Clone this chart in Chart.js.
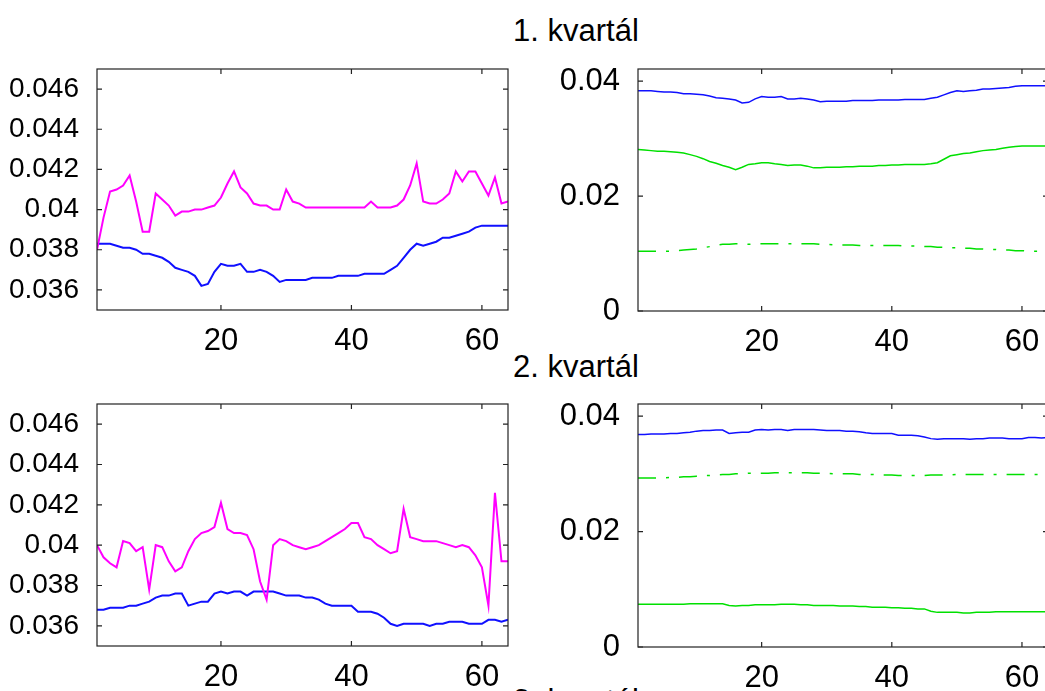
<!DOCTYPE html>
<html>
<head>
<meta charset="utf-8">
<script src="https://cdn.jsdelivr.net/npm/chart.js@4.4.0/dist/chart.umd.min.js"></script>
<style>
  html, body { margin: 0; padding: 0; background: #fff; overflow: hidden; width: 1045px; height: 691px; }
  canvas { position: absolute; }
  .titulo { position: absolute; left: 513px; font: 31px "Liberation Sans", Arial, sans-serif; line-height: 31px; color: #000; white-space: nowrap; }
</style>
</head>
<body>
<div class="titulo" style="top:15px">1. kvartál</div>
<div class="titulo" style="top:351px">2. kvartál</div>
<div class="titulo" style="top:685px">3. kvartál</div>

<canvas id="q1Izq" width="530" height="320" style="left:0px;top:50px"></canvas>
<canvas id="q1Der" width="530" height="320" style="left:540px;top:50px"></canvas>
<canvas id="q2Izq" width="530" height="320" style="left:0px;top:385px"></canvas>
<canvas id="q2Der" width="530" height="320" style="left:540px;top:385px"></canvas>

<script>
// ----------------------------------------------------------
// DATOS (índice 1..64 en el eje x)
// ----------------------------------------------------------
const ticksX      = [20, 40, 60];
const ticksYIzq   = [0.036, 0.038, 0.04, 0.042, 0.044, 0.046];
const ticksYDer   = [0, 0.02, 0.04];

// 1. kvartál
const magentaQ1 = [0.0380, 0.0396, 0.0409, 0.0410, 0.0412, 0.0417, 0.0404, 0.0389, 0.0389, 0.0408,
                   0.0405, 0.0402, 0.0397, 0.0399, 0.0399, 0.0400, 0.0400, 0.0401, 0.0402, 0.0406,
                   0.0413, 0.0419, 0.0411, 0.0408, 0.0403, 0.0402, 0.0402, 0.0400, 0.0400, 0.0410,
                   0.0404, 0.0403, 0.0401, 0.0401, 0.0401, 0.0401, 0.0401, 0.0401, 0.0401, 0.0401,
                   0.0401, 0.0401, 0.0404, 0.0401, 0.0401, 0.0401, 0.0402, 0.0405, 0.0412, 0.0423,
                   0.0404, 0.0403, 0.0403, 0.0405, 0.0408, 0.0419, 0.0414, 0.0419, 0.0419, 0.0413,
                   0.0407, 0.0416, 0.0403, 0.0404];
const azulQ1    = [0.0383, 0.0383, 0.0383, 0.0382, 0.0381, 0.0381, 0.0380, 0.0378, 0.0378, 0.0377,
                   0.0376, 0.0374, 0.0371, 0.0370, 0.0369, 0.0367, 0.0362, 0.0363, 0.0369, 0.0373,
                   0.0372, 0.0372, 0.0373, 0.0369, 0.0369, 0.0370, 0.0369, 0.0367, 0.0364, 0.0365,
                   0.0365, 0.0365, 0.0365, 0.0366, 0.0366, 0.0366, 0.0366, 0.0367, 0.0367, 0.0367,
                   0.0367, 0.0368, 0.0368, 0.0368, 0.0368, 0.0370, 0.0372, 0.0376, 0.0380, 0.0383,
                   0.0382, 0.0383, 0.0384, 0.0386, 0.0386, 0.0387, 0.0388, 0.0389, 0.0391, 0.0392,
                   0.0392, 0.0392, 0.0392, 0.0392];
const verdeQ1   = [0.0281, 0.0280, 0.0279, 0.0278, 0.0278, 0.0277, 0.0276, 0.0275, 0.0272, 0.0269,
                   0.0265, 0.0260, 0.0257, 0.0253, 0.0250, 0.0246, 0.0250, 0.0255, 0.0256, 0.0258,
                   0.0258, 0.0256, 0.0255, 0.0253, 0.0254, 0.0254, 0.0252, 0.0249, 0.0249, 0.0250,
                   0.0250, 0.0250, 0.0251, 0.0251, 0.0252, 0.0252, 0.0252, 0.0253, 0.0253, 0.0254,
                   0.0254, 0.0255, 0.0255, 0.0255, 0.0255, 0.0256, 0.0258, 0.0264, 0.0270, 0.0272,
                   0.0274, 0.0275, 0.0277, 0.0279, 0.0280, 0.0281, 0.0283, 0.0285, 0.0286, 0.0287,
                   0.0287, 0.0287, 0.0287, 0.0287];
const verdePuntoQ1 = [0.0104, 0.0104, 0.0104, 0.0104, 0.0104, 0.0104, 0.0105, 0.0106, 0.0107, 0.0108,
                   0.0110, 0.0112, 0.0114, 0.0116, 0.0116, 0.0117, 0.0117, 0.0116, 0.0117, 0.0117,
                   0.0117, 0.0117, 0.0117, 0.0117, 0.0117, 0.0117, 0.0117, 0.0117, 0.0116, 0.0116,
                   0.0115, 0.0115, 0.0115, 0.0115, 0.0114, 0.0114, 0.0114, 0.0114, 0.0114, 0.0114,
                   0.0114, 0.0113, 0.0113, 0.0113, 0.0112, 0.0112, 0.0111, 0.0111, 0.0110, 0.0110,
                   0.0109, 0.0109, 0.0108, 0.0108, 0.0107, 0.0107, 0.0106, 0.0106, 0.0105, 0.0105,
                   0.0104, 0.0104, 0.0104, 0.0104];

// 2. kvartál
const magentaQ2 = [0.0400, 0.0394, 0.0391, 0.0389, 0.0402, 0.0401, 0.0397, 0.0399, 0.0378, 0.0400,
                   0.0399, 0.0392, 0.0387, 0.0389, 0.0397, 0.0403, 0.0406, 0.0407, 0.0409, 0.0421,
                   0.0408, 0.0406, 0.0406, 0.0405, 0.0398, 0.0382, 0.0373, 0.0400, 0.0403, 0.0402,
                   0.0400, 0.0399, 0.0398, 0.0399, 0.0400, 0.0402, 0.0404, 0.0406, 0.0408, 0.0411,
                   0.0411, 0.0404, 0.0403, 0.0400, 0.0398, 0.0396, 0.0397, 0.0418, 0.0404, 0.0403,
                   0.0402, 0.0402, 0.0402, 0.0401, 0.0400, 0.0399, 0.0400, 0.0399, 0.0395, 0.0389,
                   0.0370, 0.0426, 0.0392, 0.0392];
const azulQ2    = [0.0368, 0.0368, 0.0369, 0.0369, 0.0369, 0.0370, 0.0370, 0.0371, 0.0372, 0.0374,
                   0.0375, 0.0375, 0.0376, 0.0376, 0.0370, 0.0371, 0.0372, 0.0372, 0.0376, 0.0377,
                   0.0376, 0.0377, 0.0377, 0.0375, 0.0377, 0.0377, 0.0377, 0.0377, 0.0376, 0.0375,
                   0.0375, 0.0375, 0.0374, 0.0374, 0.0373, 0.0371, 0.0370, 0.0370, 0.0370, 0.0370,
                   0.0367, 0.0367, 0.0367, 0.0366, 0.0364, 0.0361, 0.0360, 0.0361, 0.0361, 0.0361,
                   0.0361, 0.0360, 0.0361, 0.0361, 0.0362, 0.0362, 0.0362, 0.0361, 0.0361, 0.0361,
                   0.0363, 0.0363, 0.0362, 0.0363];
const verdeQ2   = [0.0074, 0.0074, 0.0074, 0.0074, 0.0074, 0.0074, 0.0074, 0.0074, 0.0075, 0.0075,
                   0.0075, 0.0075, 0.0075, 0.0075, 0.0072, 0.0071, 0.0072, 0.0072, 0.0073, 0.0073,
                   0.0073, 0.0073, 0.0074, 0.0074, 0.0074, 0.0073, 0.0073, 0.0072, 0.0072, 0.0072,
                   0.0072, 0.0071, 0.0071, 0.0071, 0.0070, 0.0070, 0.0069, 0.0069, 0.0069, 0.0068,
                   0.0068, 0.0067, 0.0067, 0.0066, 0.0066, 0.0062, 0.0060, 0.0060, 0.0060, 0.0060,
                   0.0059, 0.0059, 0.0060, 0.0060, 0.0060, 0.0061, 0.0061, 0.0061, 0.0061, 0.0061,
                   0.0061, 0.0061, 0.0061, 0.0061];
const verdePuntoQ2 = [0.0293, 0.0293, 0.0293, 0.0293, 0.0293, 0.0294, 0.0294, 0.0295, 0.0295, 0.0296,
                   0.0297, 0.0297, 0.0298, 0.0299, 0.0299, 0.0300, 0.0300, 0.0301, 0.0301, 0.0301,
                   0.0301, 0.0302, 0.0302, 0.0302, 0.0302, 0.0302, 0.0302, 0.0301, 0.0301, 0.0301,
                   0.0300, 0.0300, 0.0300, 0.0300, 0.0299, 0.0299, 0.0299, 0.0298, 0.0298, 0.0298,
                   0.0297, 0.0297, 0.0297, 0.0297, 0.0297, 0.0298, 0.0298, 0.0298, 0.0298, 0.0299,
                   0.0299, 0.0299, 0.0299, 0.0299, 0.0299, 0.0299, 0.0299, 0.0299, 0.0299, 0.0299,
                   0.0299, 0.0299, 0.0299, 0.0299];


// ----------------------------------------------------------
// Caja estilo MATLAB con marcas hacia adentro
// ----------------------------------------------------------
const cajaPlugin = {
    id: 'caja',
    afterDraw(chart) {
        const { ctx, chartArea: a, scales: { x, y } } = chart;
        ctx.save();
        ctx.strokeStyle = '#222';
        ctx.lineWidth = 1.2;
        ctx.strokeRect(a.left, a.top, a.right - a.left, a.bottom - a.top);
        ctx.beginPath();
        x.ticks.forEach(t => {
            const px = x.getPixelForValue(t.value);
            ctx.moveTo(px, a.bottom); ctx.lineTo(px, a.bottom - 5);
            ctx.moveTo(px, a.top);    ctx.lineTo(px, a.top + 5);
        });
        y.ticks.forEach(t => {
            const py = y.getPixelForValue(t.value);
            ctx.moveTo(a.left, py);  ctx.lineTo(a.left + 5, py);
            ctx.moveTo(a.right, py); ctx.lineTo(a.right - 5, py);
        });
        ctx.stroke();
        ctx.restore();
    }
};

const familia = '"Liberation Sans", Arial, sans-serif';

function serie(valores, color, ancho, guion) {
    return {
        data: valores.map((v, i) => ({ x: i + 1, y: v })),
        borderColor: color,
        borderWidth: ancho,
        borderDash: guion || [],
        pointRadius: 0,
        tension: 0,
        fill: false
    };
}

function panel(id, datasets, yMin, yMax, ticksY, anchoY, altoX, tamY) {
    new Chart(document.getElementById(id), {
        type: 'line',
        data: { datasets: datasets },
        options: {
            responsive: false,
            animation: false,
            layout: { autoPadding: false, padding: { left: 0, top: 19, right: 22, bottom: 0 } },
            plugins: { legend: { display: false }, tooltip: { enabled: false } },
            scales: {
                x: {
                    type: 'linear', min: 1, max: 64,
                    grid: { display: false }, border: { display: false },
                    afterBuildTicks: s => { s.ticks = ticksX.map(v => ({ value: v })); },
                    afterFit: s => { s.height = altoX; s.paddingLeft = 0; s.paddingRight = 0; },
                    ticks: { color: '#000', font: { family: familia, size: 31 }, padding: 5, maxRotation: 0, callback: v => String(v) }
                },
                y: {
                    type: 'linear', min: yMin, max: yMax,
                    grid: { display: false }, border: { display: false },
                    afterBuildTicks: s => { s.ticks = ticksY.map(v => ({ value: v })); },
                    afterFit: s => { s.width = anchoY; s.paddingTop = 0; s.paddingBottom = 0; },
                    ticks: { color: '#000', font: { family: familia, size: tamY }, padding: 10, callback: v => String(v) }
                }
            }
        },
        plugins: [cajaPlugin]
    });
}

const AZUL = '#1010ff', MAGENTA = '#ff00ff', VERDE = '#00e000';
const PUNTO_RAYA = [18, 10, 3, 10];

// 1. kvartál
panel('q1Izq', [serie(magentaQ1, MAGENTA, 2), serie(azulQ1, AZUL, 2)],
      0.035, 0.047, ticksYIzq, 97, 60, 28);
panel('q1Der', [serie(azulQ1, AZUL, 1.5), serie(verdeQ1, VERDE, 1.5), serie(verdePuntoQ1, VERDE, 1.5, PUNTO_RAYA)],
      0, 0.0421, ticksYDer, 98, 59, 31);

// 2. kvartál
panel('q2Izq', [serie(magentaQ2, MAGENTA, 2), serie(azulQ2, AZUL, 2)],
      0.035, 0.047, ticksYIzq, 97, 59, 28);
panel('q2Der', [serie(azulQ2, AZUL, 1.5), serie(verdeQ2, VERDE, 1.5), serie(verdePuntoQ2, VERDE, 1.5, PUNTO_RAYA)],
      0, 0.0421, ticksYDer, 98, 58, 31);
</script>
</body>
</html>
